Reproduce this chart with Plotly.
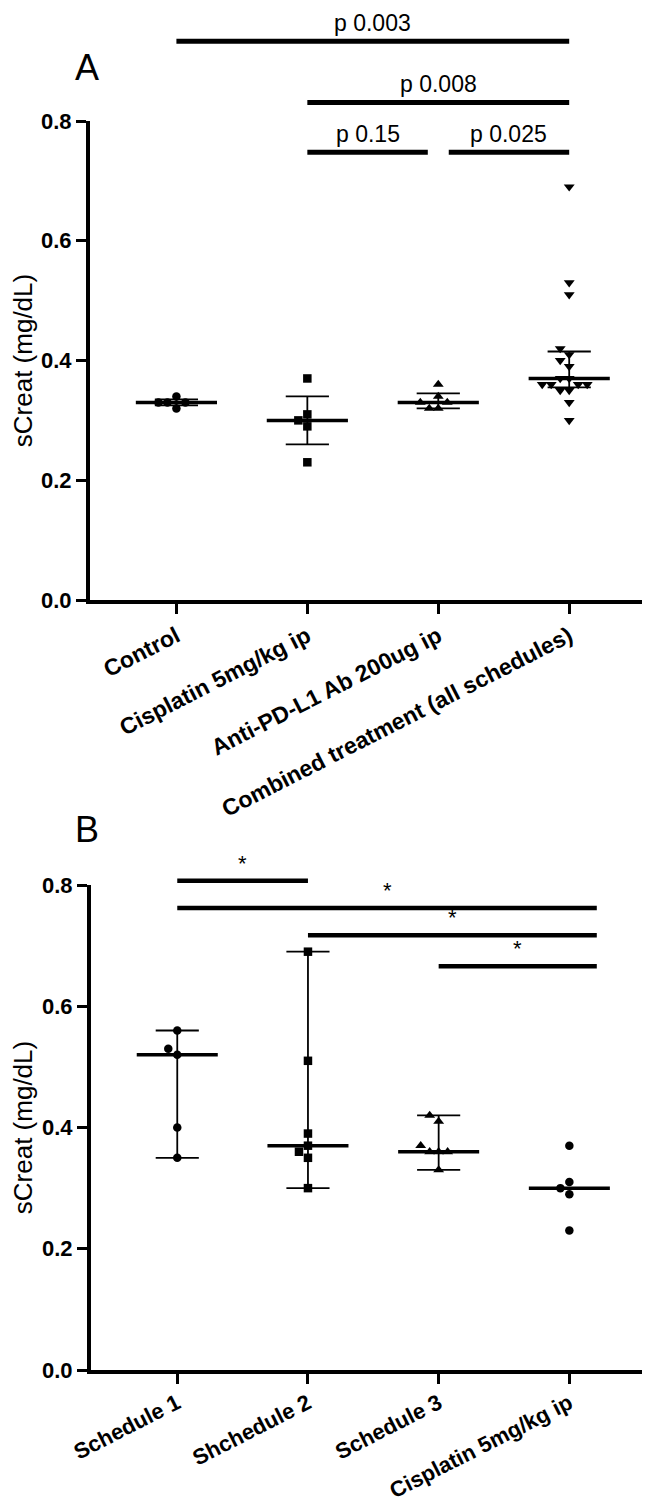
import numpy as np
import plotly.graph_objects as go

# ---- data ----
groups_a = ["Control", "Cisplatin 5mg/kg ip", "Anti-PD-L1 Ab 200ug ip",
            "Combined treatment (all schedules)"]
control_a = [0.34, 0.33, 0.33, 0.33, 0.32]
cisplatin_a = [0.37, 0.31, 0.30, 0.29, 0.23]
antipdl1_a = [0.36, 0.34, 0.33, 0.33, 0.32, 0.32]
combined_a = [0.69, 0.53, 0.51, 0.42, 0.41, 0.40, 0.39, 0.37, 0.37,
              0.36, 0.36, 0.36, 0.36, 0.35, 0.35, 0.33, 0.30]

groups_b = ["Schedule 1", "Shchedule 2", "Schedule 3", "Cisplatin 5mg/kg ip"]
schedule1_b = [0.56, 0.53, 0.52, 0.40, 0.35]
schedule2_b = [0.69, 0.51, 0.39, 0.37, 0.36, 0.35, 0.30]
schedule3_b = [0.42, 0.41, 0.37, 0.36, 0.36, 0.36, 0.33]
cisplatin_b = [0.37, 0.31, 0.30, 0.29, 0.23]

compare_a = [(0, 3), (1, 3), (1, 2), (2, 3)]
pvals_a = ["p 0.003", "p 0.008", "p 0.15", "p 0.025"]
compare_b = [(0, 1), (0, 3), (1, 3), (2, 3)]
stars_b = ["*", "*", "*", "*"]

# ---- styling ----
FONT = "Liberation Sans, Arial, sans-serif"
symbols_a = ["circle", "square", "triangle-up", "triangle-down"]
symbols_b = ["circle", "square", "triangle-up", "circle"]
sizes = {"circle": 8.5, "square": 8.5, "triangle-up": 9.5, "triangle-down": 9.5}
bracket_levels_a = [0.933, 0.831, 0.748, 0.748]
bracket_levels_b = [0.807, 0.762, 0.717, 0.666]
W, H = 650, 1509
XR = [-0.66, 3.64]
PX_PER_CAT = 131.0
A_TOP, A_BOT = 113, 592     # pixel rows of 0.8 and 0.0
B_TOP, B_BOT = 877, 1362


def quartiles(v):
    s = np.sort(np.asarray(v, dtype=float))
    n = len(s)

    def q(p):
        r = p * (n + 1)
        lo = int(np.floor(r))
        frac = r - lo
        lo = min(max(lo, 1), n)
        hi = min(lo + 1, n)
        return s[lo - 1] + frac * (s[hi - 1] - s[lo - 1])
    return q(0.25), q(0.5), q(0.75)


def swarm(values, px_y, diam=9.0):
    vals = np.asarray(values, dtype=float)
    placed = []
    offs = np.zeros(len(vals))
    cands = [0.0]
    for m in range(1, 15):
        cands += [-m * diam, m * diam]
    for idx in np.argsort(vals):
        y = vals[idx] * px_y
        for c in cands:
            if all((c - px) ** 2 + (y - py) ** 2 >= (diam * 0.999) ** 2 for px, py in placed):
                break
        placed.append((c, y))
        offs[idx] = c / PX_PER_CAT
    return offs


def add_panel(fig, series, symbols, xa, ya, px_y, whisker):
    for i, vals in enumerate(series):
        offs = swarm(vals, px_y)
        sym = symbols[i]
        fig.add_trace(go.Scatter(
            x=i + offs, y=vals, mode="markers", xaxis=xa, yaxis=ya,
            marker=dict(symbol=sym, size=sizes[sym], color="black", line=dict(width=0)),
            showlegend=False, hoverinfo="y"))
    for i, vals in enumerate(series):
        q1, med, q3 = quartiles(vals)
        fig.add_trace(go.Scatter(
            x=[i - 0.31, i + 0.31], y=[med, med], mode="lines", xaxis=xa, yaxis=ya,
            line=dict(color="black", width=3.5), showlegend=False, hoverinfo="skip"))
        if whisker == "iqr":
            lo, hi = q1, q3
        elif whisker[i]:
            lo, hi = min(vals), max(vals)
        else:
            continue
        fig.add_trace(go.Scatter(
            x=[i, i, None, i - 0.165, i + 0.165, None, i - 0.165, i + 0.165],
            y=[lo, hi, None, lo, lo, None, hi, hi], mode="lines", xaxis=xa, yaxis=ya,
            line=dict(color="black", width=1.8), showlegend=False, hoverinfo="skip"))


def add_brackets(fig, pairs, labels, levels, xa, ya, gap, overhang, lw, fsize):
    for k, ((i, j), lab, lev) in enumerate(zip(pairs, labels, levels)):
        x0, x1 = float(i), float(j)
        for m, ((a, b), l2) in enumerate(zip(pairs, levels)):
            if m != k and l2 == lev:
                if b == i:
                    x0 += gap
                if a == j:
                    x1 -= gap
        if j == 3:
            x1 += overhang
        fig.add_trace(go.Scatter(
            x=[x0, x1], y=[lev, lev], mode="lines", xaxis=xa, yaxis=ya,
            line=dict(color="black", width=lw), showlegend=False, hoverinfo="skip"))
        fig.add_annotation(x=(x0 + x1) / 2, y=lev, xref=xa, yref=ya, text=lab,
                           showarrow=False, yanchor="bottom", yshift=3,
                           font=dict(family=FONT, size=fsize, color="black"))


fig = go.Figure()

px_a = (A_BOT - A_TOP) / 0.8
px_b = (B_BOT - B_TOP) / 0.8
add_panel(fig, [control_a, cisplatin_a, antipdl1_a, combined_a], symbols_a,
          "x", "y", px_a, "iqr")
add_panel(fig, [schedule1_b, schedule2_b, schedule3_b, cisplatin_b], symbols_b,
          "x2", "y2", px_b, [True, True, True, False])
add_brackets(fig, compare_a, pvals_a, bracket_levels_a, "x", "y3", 0.08, 0.0, 5, 23)
add_brackets(fig, compare_b, stars_b, bracket_levels_b, "x2", "y4", 0.0, 0.21, 4.5, 22)

axis_common = dict(showline=True, linewidth=4, linecolor="black", ticks="outside",
                   ticklen=10, tickwidth=3, tickcolor="black", showgrid=False,
                   zeroline=False, automargin=False,
                   tickfont=dict(family=FONT, size=22, color="black", weight="bold"))
xfont = dict(family=FONT, size=23, color="black", weight="bold")
xfont_b = dict(family=FONT, size=22, color="black", weight="bold")
xdom = [82 / W, 645 / W]
ytitle = dict(text="sCreat (mg/dL)", font=dict(family=FONT, size=26, color="black"),
              standoff=6)

fig.update_layout(
    width=W, height=H, margin=dict(l=0, r=0, t=0, b=0),
    paper_bgcolor="white", plot_bgcolor="rgba(0,0,0,0)", showlegend=False,
    xaxis=dict(axis_common, domain=xdom, range=XR, anchor="y", tickvals=[0, 1, 2, 3],
               ticktext=groups_a, tickangle=-27, tickfont=xfont),
    yaxis=dict(axis_common, domain=[1 - A_BOT / H, 1 - A_TOP / H], range=[0, 0.8],
               anchor="x", tickvals=[0, 0.2, 0.4, 0.6, 0.8], tickformat=".1f", title=ytitle),
    yaxis3=dict(domain=[1 - A_BOT / H, 1.0], range=[0, 0.8 * A_BOT / (A_BOT - A_TOP)],
                anchor="x", visible=False),
    xaxis2=dict(axis_common, domain=[83 / W, 645 / W], range=XR, anchor="y2",
                tickvals=[0, 1, 2, 3], ticktext=groups_b, tickangle=-27, tickfont=xfont_b,
                ticklabelstandoff=-2),
    yaxis2=dict(axis_common, domain=[1 - B_BOT / H, 1 - B_TOP / H], range=[0, 0.8],
                anchor="x2", tickvals=[0, 0.2, 0.4, 0.6, 0.8], tickformat=".1f", title=ytitle),
    yaxis4=dict(domain=[1 - B_BOT / H, 1 - 800 / H], range=[0, 0.8 * (B_BOT - 800) / (B_BOT - B_TOP)],
                anchor="x2", visible=False),
)

for lab, yp in (("A", 60), ("B", 822)):
    fig.add_annotation(x=79 / W, y=1 - yp / H, xref="paper", yref="paper", text=lab,
                       showarrow=False, xanchor="center", yanchor="middle",
                       font=dict(family=FONT, size=36, color="black"))

fig.write_html("out.html")
